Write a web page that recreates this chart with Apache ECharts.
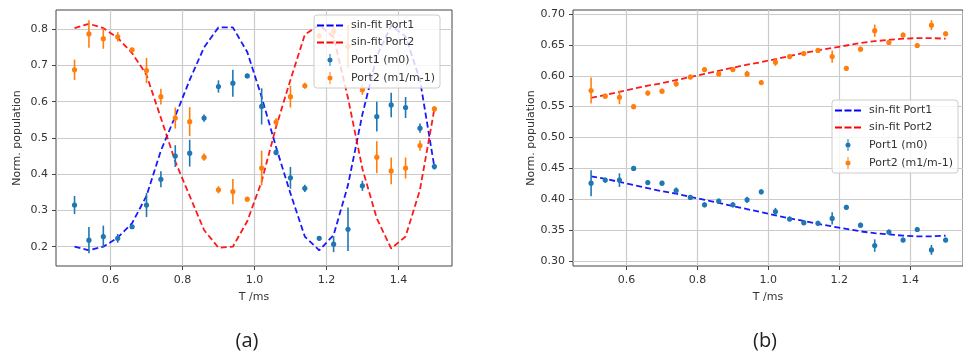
<!DOCTYPE html>
<html>
<head>
<meta charset="utf-8">
<script src="https://cdn.jsdelivr.net/npm/echarts@6/dist/echarts.min.js"></script>
<style>
  html, body { margin: 0; padding: 0; background: #ffffff; }
  #chart { width: 963px; height: 353px; }
</style>
</head>
<body>
<div id="chart"></div>
<script>
// Pulse duration T (ms), shared by both panels
const T = [0.50, 0.54, 0.58, 0.62, 0.66, 0.70, 0.74, 0.78, 0.82, 0.86, 0.90, 0.94, 0.98,
           1.02, 1.06, 1.10, 1.14, 1.18, 1.22, 1.26, 1.30, 1.34, 1.38, 1.42, 1.46, 1.50];

// Panel (a): sinusoidal fits evaluated at each T
const fitA1 = [0.200, 0.190, 0.200, 0.225, 0.265, 0.340, 0.465, 0.560, 0.660, 0.750, 0.805, 0.805, 0.737,
               0.613, 0.475, 0.347, 0.228, 0.190, 0.232, 0.370, 0.565, 0.725, 0.810, 0.780, 0.660, 0.420];
const fitA2 = [0.803, 0.815, 0.803, 0.776, 0.734, 0.674, 0.555, 0.435, 0.340, 0.246, 0.197, 0.200, 0.270,
               0.380, 0.530, 0.660, 0.785, 0.812, 0.778, 0.610, 0.415, 0.278, 0.195, 0.228, 0.357, 0.580];
// Panel (a): measured populations and their uncertainties
const portA1 = [0.315, 0.218, 0.228, 0.223, 0.255, 0.315, 0.386, 0.450, 0.458, 0.555, 0.642, 0.651, 0.671,
                0.587, 0.460, 0.390, 0.361, 0.223, 0.207, 0.248, 0.368, 0.559, 0.591, 0.584, 0.527, 0.421];
const errA1  = [0.025, 0.036, 0.030, 0.012, 0.006, 0.033, 0.022, 0.030, 0.037, 0.010, 0.017, 0.037, 0.006,
                0.050, 0.008, 0.030, 0.010, 0.006, 0.022, 0.060, 0.014, 0.041, 0.034, 0.029, 0.013, 0.008];
const portA2 = [0.688, 0.787, 0.774, 0.779, 0.743, 0.686, 0.614, 0.555, 0.545, 0.447, 0.357, 0.352, 0.331,
                0.417, 0.544, 0.614, 0.644, 0.782, 0.794, 0.752, 0.633, 0.447, 0.409, 0.417, 0.479, 0.580];
const errA2  = [0.028, 0.038, 0.028, 0.013, 0.006, 0.035, 0.022, 0.029, 0.040, 0.010, 0.010, 0.035, 0.006,
                0.048, 0.010, 0.030, 0.008, 0.008, 0.022, 0.060, 0.014, 0.044, 0.037, 0.029, 0.014, 0.008];

// Panel (b): fits
const fitB1 = [0.437, 0.433, 0.428, 0.423, 0.418, 0.413, 0.409, 0.404, 0.399, 0.394, 0.389, 0.384, 0.379,
               0.374, 0.369, 0.365, 0.360, 0.356, 0.352, 0.348, 0.345, 0.343, 0.341, 0.340, 0.340, 0.341];
const fitB2 = [0.564, 0.569, 0.574, 0.579, 0.584, 0.588, 0.593, 0.598, 0.603, 0.608, 0.613, 0.618, 0.622,
               0.627, 0.632, 0.637, 0.641, 0.645, 0.649, 0.653, 0.656, 0.658, 0.660, 0.661, 0.661, 0.660];
// Panel (b): measurements
const portB1 = [0.426, 0.431, 0.431, 0.450, 0.427, 0.426, 0.414, 0.403, 0.391, 0.397, 0.391, 0.399, 0.412,
                0.380, 0.368, 0.362, 0.361, 0.369, 0.387, 0.358, 0.325, 0.347, 0.334, 0.351, 0.318, 0.334];
const errB1  = [0.021, 0.004, 0.011, 0.004, 0.004, 0.004, 0.005, 0.004, 0.004, 0.004, 0.004, 0.005, 0.004,
                0.006, 0.004, 0.004, 0.004, 0.010, 0.004, 0.004, 0.010, 0.004, 0.004, 0.004, 0.008, 0.004];
const portB2 = [0.576, 0.567, 0.565, 0.550, 0.572, 0.575, 0.587, 0.598, 0.610, 0.603, 0.610, 0.603, 0.589,
                0.622, 0.631, 0.636, 0.641, 0.631, 0.612, 0.643, 0.673, 0.654, 0.666, 0.649, 0.682, 0.668];
const errB2  = [0.021, 0.004, 0.011, 0.004, 0.004, 0.004, 0.005, 0.004, 0.004, 0.004, 0.004, 0.005, 0.004,
                0.006, 0.004, 0.004, 0.004, 0.010, 0.004, 0.004, 0.010, 0.004, 0.004, 0.004, 0.008, 0.004];

// Tick positions
const xTicks  = [0.6, 0.8, 1.0, 1.2, 1.4];
const yTicksA = [0.2, 0.3, 0.4, 0.5, 0.6, 0.7, 0.8];
const yTicksB = [0.30, 0.35, 0.40, 0.45, 0.50, 0.55, 0.60, 0.65, 0.70];

const FONT = 'DejaVu Sans';
const TEXT = '#333333';
const FRAME = '#444444';
const GRIDLINE = '#cbcbcb';
const C_FIT1 = '#0000ff', C_FIT2 = '#ff0000';
const C_P1 = '#1f77b4', C_P2 = '#ff7f0e';

// Legend handles: a dashed stroke and an error bar with a dot
const ICON_DASH = 'path://M0,0 H7 V2 H0 Z M9.5,0 H16.5 V2 H9.5 Z M19,0 H26 V2 H19 Z';
const ICON_ERR = 'path://M2,0 H3 V12 H2 Z M0,6 A2.5,2.5 0 1 1 5,6 A2.5,2.5 0 1 1 0,6 Z';

function renderErrorPoint(params, api) {
  const x = api.value(0), y = api.value(1), e = api.value(2);
  const c = api.coord([x, y]);
  const top = api.coord([x, y + e]);
  const bot = api.coord([x, y - e]);
  const color = api.visual('color');
  return {
    type: 'group',
    children: [
      { type: 'line', shape: { x1: c[0], y1: top[1], x2: c[0], y2: bot[1] },
        style: { stroke: color, lineWidth: 1.6 } },
      { type: 'circle', shape: { cx: c[0], cy: c[1], r: 2.6 }, style: { fill: color } }
    ]
  };
}

function fitSeries(name, vals, color, gi) {
  return {
    type: 'line', name, xAxisIndex: gi, yAxisIndex: gi,
    data: T.map((t, i) => [t, vals[i]]),
    symbol: 'none', silent: true, z: 2,
    itemStyle: { color },
    lineStyle: { color, width: 1.8, type: [6, 3.2], opacity: 0.9 }
  };
}

function pointSeries(name, vals, errs, color, gi) {
  return {
    type: 'custom', name, xAxisIndex: gi, yAxisIndex: gi,
    data: T.map((t, i) => [t, vals[i], errs[i]]),
    encode: { x: 0, y: 1 },
    itemStyle: { color },
    renderItem: renderErrorPoint, z: 3
  };
}

function xAxisFor(gi, min, max) {
  return {
    type: 'value', gridIndex: gi, min, max,
    name: 'T /ms', nameLocation: 'middle', nameGap: 26,
    nameTextStyle: { fontFamily: FONT, fontSize: 11, color: TEXT },
    axisLine: { show: false, onZero: false },
    axisTick: { show: true, length: 4, customValues: xTicks, lineStyle: { color: FRAME } },
    axisLabel: { customValues: xTicks, formatter: v => v.toFixed(1), margin: 9,
                 fontFamily: FONT, fontSize: 11, color: TEXT },
    splitLine: { show: true, lineStyle: { color: GRIDLINE, width: 1.2 } }
  };
}

function yAxisFor(gi, min, max, ticks, digits) {
  return {
    type: 'value', gridIndex: gi, min, max,
    name: 'Norm. population', nameLocation: 'middle', nameGap: 33, nameRotate: 90,
    nameTextStyle: { fontFamily: FONT, fontSize: 11, color: TEXT },
    axisLine: { show: false, onZero: false },
    axisTick: { show: true, length: 4, customValues: ticks, lineStyle: { color: FRAME } },
    axisLabel: { customValues: ticks, formatter: v => v.toFixed(digits), margin: 8,
                 fontFamily: FONT, fontSize: 11, color: TEXT },
    splitLine: { show: true, lineStyle: { color: GRIDLINE, width: 1.2 } }
  };
}

function legendAt(left, top) {
  return {
    orient: 'vertical', left, top,
    itemWidth: 26, itemHeight: 12, itemGap: 6,
    padding: [5, 5, 4, 3],
    backgroundColor: 'rgba(255,255,255,0.8)',
    borderColor: '#cccccc', borderWidth: 1, borderRadius: 3,
    selectedMode: false, z: 10,
    textStyle: { fontFamily: FONT, fontSize: 11, color: TEXT, padding: [0, 0, 0, 3] },
    data: [
      { name: 'sin-fit Port1', icon: ICON_DASH },
      { name: 'sin-fit Port2', icon: ICON_DASH },
      { name: 'Port1 (m0)', icon: ICON_ERR },
      { name: 'Port2 (m1/m-1)', icon: ICON_ERR }
    ]
  };
}

const chart = echarts.init(document.getElementById('chart'), null, { renderer: 'canvas' });
chart.setOption({
  animation: false,
  backgroundColor: '#ffffff',
  grid: [
    { left: 56, top: 10, width: 396, height: 256, show: true, borderColor: FRAME, borderWidth: 1 },
    { left: 573, top: 10, width: 397, height: 256, show: true, borderColor: FRAME, borderWidth: 1 }
  ],
  xAxis: [ xAxisFor(0, 0.4485, 1.549), xAxisFor(1, 0.449, 1.549) ],
  yAxis: [ yAxisFor(0, 0.1467, 0.853, yTicksA, 1), yAxisFor(1, 0.2919, 0.7065, yTicksB, 2) ],
  legend: [ legendAt(314, 15), legendAt(832, 100) ],
  series: [
    fitSeries('sin-fit Port1', fitA1, C_FIT1, 0),
    fitSeries('sin-fit Port2', fitA2, C_FIT2, 0),
    pointSeries('Port1 (m0)', portA1, errA1, C_P1, 0),
    pointSeries('Port2 (m1/m-1)', portA2, errA2, C_P2, 0),
    fitSeries('sin-fit Port1', fitB1, C_FIT1, 1),
    fitSeries('sin-fit Port2', fitB2, C_FIT2, 1),
    pointSeries('Port1 (m0)', portB1, errB1, C_P1, 1),
    pointSeries('Port2 (m1/m-1)', portB2, errB2, C_P2, 1)
  ],
  graphic: [
    { type: 'text', style: { text: '(a)', x: 247, y: 341, fill: '#222',
      font: '20px "Open Sans"', align: 'center', verticalAlign: 'middle' } },
    { type: 'text', style: { text: '(b)', x: 765, y: 341, fill: '#222',
      font: '20px "Open Sans"', align: 'center', verticalAlign: 'middle' } }
  ]
});
</script>
</body>
</html>
